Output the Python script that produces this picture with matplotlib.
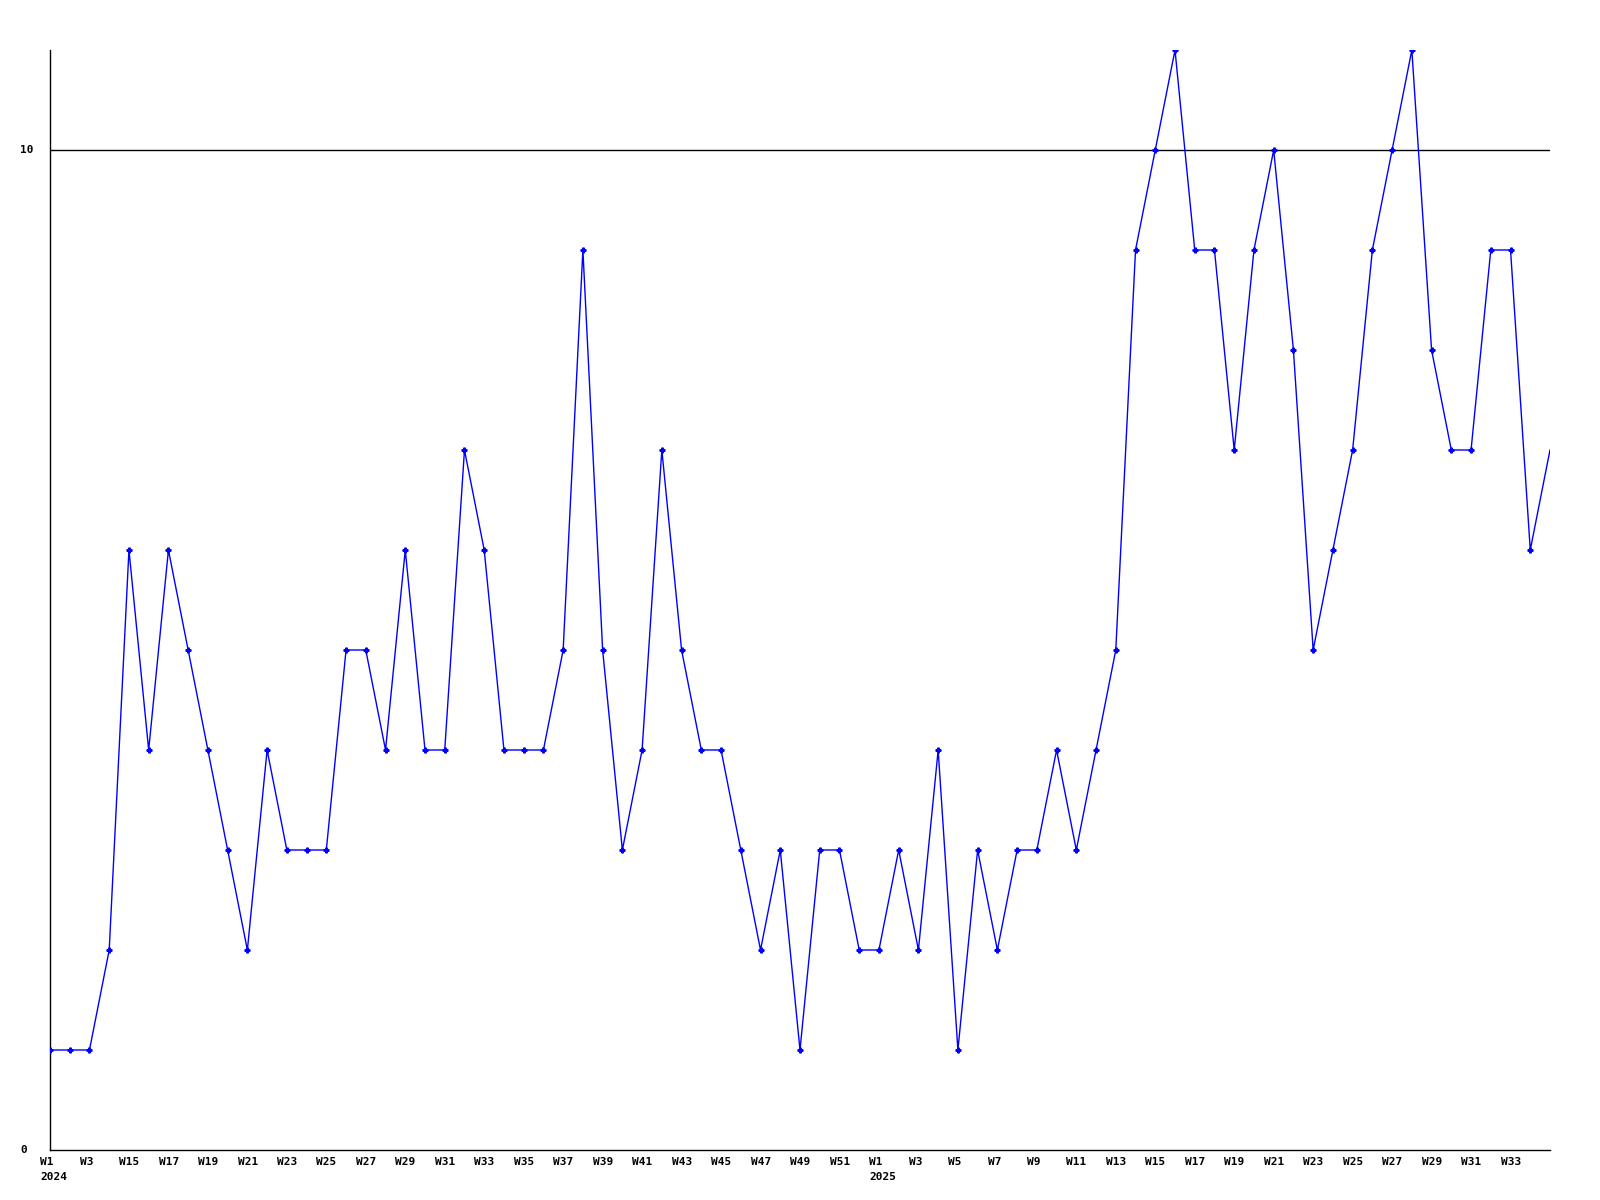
import numpy as np
import matplotlib
matplotlib.use('Agg')
import matplotlib.pyplot as plt
from matplotlib.transforms import blended_transform_factory

# weeks shown on the x axis (2024: W1-W3, W14-W52; 2025: W1-W35)
weeks_2024 = [1, 2, 3] + list(range(14, 53))
weeks_2025 = list(range(1, 36))
values = [1, 1, 1, 2, 6, 4, 6, 5, 4, 3, 2, 4, 3, 3, 3, 5, 5, 4, 6, 4, 4, 7, 6, 4, 4, 4, 5, 9, 5, 3,
          4, 7, 5, 4, 4, 3, 2, 3, 1, 3, 3, 2,
          2, 3, 2, 4, 1, 3, 2, 3, 3, 4, 3, 4, 5, 9, 10, 11, 9, 9, 7, 9, 10, 8, 5, 6, 7, 9, 10, 11,
          8, 7, 7, 9, 9, 6, 7]
week_labels = ['W%d' % w for w in weeks_2024] + ['W%d' % w for w in weeks_2025]
year_labels = {0: '2024', len(weeks_2024): '2025'}

x = np.arange(len(values))
y = np.array(values)

fig = plt.figure(figsize=(16, 12), dpi=100, facecolor='white')
ax = fig.add_axes([50 / 1600, 50 / 1200, 1500 / 1600, 1100 / 1200])

ax.plot(x, y, '-', color='#0000ff', lw=1.0, marker='P', markersize=3.5,
        markevery=list(range(len(x) - 1)), zorder=3)
ax.axhline(10, color='black', lw=1, zorder=1)

ax.set_xlim(0, len(x) - 1)
ax.set_ylim(0, 11)
for s in ['top', 'right']:
    ax.spines[s].set_visible(False)
for s in ['left', 'bottom']:
    ax.spines[s].set_linewidth(1.0)
    ax.spines[s].set_color('black')
ax.set_xticks([])
ax.set_yticks([])

font = dict(family='DejaVu Sans Mono', fontweight='bold', fontsize=8)
# y labels
ytrans = blended_transform_factory(fig.transFigure, ax.transData)
for v in [0, 10]:
    ax.text(20 / 1600, v, str(v), transform=ytrans, ha='left', va='center', **font)

# x labels, every other point (not the last one), left aligned a bit before the point
for i in range(0, len(x) - 1, 2):
    ax.text(i - 0.5, -0.12, week_labels[i], ha='left', va='center', clip_on=False, **font)
for i, yr in year_labels.items():
    ax.text(i - 0.5, -0.27, yr, ha='left', va='center', clip_on=False, **font)

fig.savefig('out.png', dpi=100, facecolor='white')
